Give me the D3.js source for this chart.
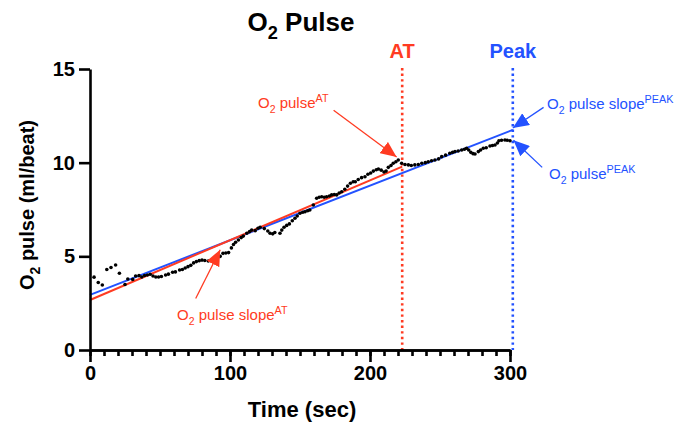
<!DOCTYPE html>
<html>
<head>
<meta charset="utf-8">
<script src="https://cdn.jsdelivr.net/npm/d3@7"></script>
<style>
  body { margin: 0; background: #fff; }
  svg text { font-family: "Liberation Sans", Arial, Helvetica, sans-serif; }
</style>
</head>
<body>
<svg id="chart" width="675" height="429"></svg>
<script>
// time (sec) and O2 pulse (ml/beat)
var times = [2.9, 5.9, 8.8, 12, 15, 18.3, 21, 25, 27, 30.5, 32.6, 35, 37, 39, 41, 43, 45, 47, 49, 51,
  54, 56, 59, 61, 64, 66, 68, 70, 72, 74, 76, 78, 80, 82, 84.5, 86, 88, 91, 93, 95,
  97, 99, 101, 102.5, 104, 106, 108, 109.5, 112, 114, 115.5, 118, 120, 121.5, 124.5, 127, 128.6, 130.5, 132, 135.7,
  137, 138.6, 140.5, 142.4, 144.5, 146.4, 148, 150, 152, 153.6, 155.5, 157, 159.5, 161.9, 163.7, 165.5, 167.3, 169, 171, 172.6,
  174.5, 176.2, 178, 179.8, 182, 184, 186, 188, 189.5, 191.6, 194, 196.4, 198.5, 200.5, 202.4, 204.5, 206, 208, 210, 211.5,
  213.1, 215, 216.6, 218.5, 220.2, 222.6, 225, 227.4, 229.5, 232, 234.5, 237, 239.5, 241.6, 244, 246.4, 249, 251.2,
  254, 257, 259, 260.7, 263, 265.5, 267.5, 269, 270.5, 272, 273.6, 275, 277.4, 279, 280.9, 283, 285.7, 287.5, 289.3, 291,
  292.1, 294, 296.4, 298, 300];
var pulse = [3.89, 3.6, 3.47, 4.3, 4.4, 4.54, 4.1, 3.5, 3.79, 3.77, 3.95, 3.97, 3.9, 3.98, 4.0, 4.04, 3.95, 3.9, 3.9, 3.92,
  4.0, 4.05, 4.15, 4.17, 4.27, 4.3, 4.38, 4.45, 4.52, 4.65, 4.72, 4.77, 4.8, 4.78, 4.75, 4.78, 4.8, 4.89, 5.0, 5.16,
  5.18, 5.2, 5.45, 5.63, 5.75, 5.87, 6.0, 6.08, 6.23, 6.32, 6.4, 6.37, 6.5, 6.55, 6.48, 6.35, 6.23, 6.2, 6.27, 6.23,
  6.4, 6.55, 6.65, 6.73, 6.9, 7.03, 7.15, 7.3, 7.35, 7.38, 7.43, 7.47, 7.74, 8.1, 8.15, 8.18, 8.15, 8.18, 8.22, 8.28,
  8.3, 8.28, 8.38, 8.45, 8.58, 8.75, 8.9, 8.98, 8.98, 9.1, 9.2, 9.25, 9.38, 9.45, 9.55, 9.62, 9.66, 9.6, 9.5, 9.55,
  9.75, 9.85, 9.97, 10.05, 10.14, 9.97, 9.9, 9.88, 9.85, 9.88, 9.9, 9.97, 10.0, 10.05, 10.1, 10.14, 10.2, 10.32,
  10.4, 10.5, 10.55, 10.59, 10.62, 10.68, 10.72, 10.77, 10.68, 10.55, 10.48, 10.46, 10.59, 10.68, 10.77, 10.8, 10.89, 10.92, 10.94, 11.05,
  11.17, 11.2, 11.21, 11.2, 11.17];

// fitted slopes: [time, value] at start and end
var slopeAT = [[0, 2.67], [223, 9.79]];
var slopePeak = [[0, 2.94], [302, 11.75]];

// markers
var atTime = 223;
var peakTime = 302;

var xMajor = [0, 100, 200, 300];
var xMinor = d3.range(0, 301, 10);
var yTicks = [0, 5, 10, 15];

var RED = "#ff3b22";
var BLUE = "#2352ff";

var svg = d3.select("#chart");
var x = d3.scaleLinear().domain([0, 300]).range([90, 510]);
var y = d3.scaleLinear().domain([0, 15]).range([350, 69]);

// defs for arrowheads
var defs = svg.append("defs");
[["arrRed", RED], ["arrBlue", BLUE]].forEach(function(m) {
  defs.append("marker")
    .attr("id", m[0])
    .attr("markerUnits", "userSpaceOnUse")
    .attr("viewBox", "0 0 16 14")
    .attr("refX", 16).attr("refY", 7)
    .attr("markerWidth", 16).attr("markerHeight", 14)
    .attr("orient", "auto")
    .append("path")
    .attr("d", "M0,0 L16,7 L0,14 Z")
    .attr("fill", m[1]);
});

// vertical dotted lines
function vline(t, color) {
  svg.append("line")
    .attr("x1", x(t)).attr("x2", x(t))
    .attr("y1", y(15) - 1).attr("y2", y(0))
    .attr("stroke", color)
    .attr("stroke-width", 2.6)
    .attr("stroke-dasharray", "2.4,3.2");
}
vline(atTime, RED);
vline(peakTime, BLUE);

// fitted lines
var line = d3.line().x(function(d) { return x(d[0]); }).y(function(d) { return y(d[1]); });
svg.append("path").datum(slopePeak).attr("d", line)
  .attr("stroke", BLUE).attr("stroke-width", 2).attr("fill", "none");
svg.append("path").datum(slopeAT).attr("d", line)
  .attr("stroke", RED).attr("stroke-width", 2).attr("fill", "none");

// data points
svg.append("g").selectAll("circle")
  .data(times)
  .join("circle")
  .attr("cx", function(d) { return x(d); })
  .attr("cy", function(d, i) { return y(pulse[i]); })
  .attr("r", 1.8)
  .attr("fill", "#000");

// axes
var yAxis = svg.append("g")
  .attr("transform", "translate(" + x(0) + ",0)")
  .call(d3.axisLeft(y).tickValues(yTicks).tickSize(11).tickSizeOuter(0).tickPadding(4));
var xAxis = svg.append("g")
  .attr("transform", "translate(0," + y(0) + ")")
  .call(d3.axisBottom(x).tickValues(xMajor).tickSize(12).tickSizeOuter(0).tickPadding(4));
var xMinorAxis = svg.append("g")
  .attr("transform", "translate(0," + y(0) + ")")
  .call(d3.axisBottom(x).tickValues(xMinor).tickSize(6).tickSizeOuter(0).tickFormat(""));
[yAxis, xAxis, xMinorAxis].forEach(function(g) {
  g.selectAll("path, line").attr("stroke", "#000").attr("stroke-width", 2.6);
  g.selectAll("text")
    .attr("fill", "#000")
    .style("font-size", "20px")
    .style("font-weight", "bold")
    .style("font-family", '"Liberation Sans", Arial, sans-serif');
});

// text helper: parts = [[text, "n"|"sub"|"sup"], ...]
function richText(g, parts, size) {
  parts.forEach(function(p, i) {
    var ts = g.append("tspan").text(p[0]);
    if (p[1] === "sub") ts.attr("dy", size * 0.3).style("font-size", (size * 0.7) + "px");
    else if (p[1] === "sup") ts.attr("dy", -size * 0.4).style("font-size", (size * 0.72) + "px");
    else if (i > 0 && parts[i - 1][1] === "sub") ts.attr("dy", -size * 0.3);
  });
  return g;
}

// title
richText(svg.append("text")
  .attr("x", 301).attr("y", 31)
  .attr("text-anchor", "middle")
  .style("font-size", "26px").style("font-weight", "bold"),
  [["O", "n"], ["2", "sub"], [" Pulse", "n"]], 26);

// axis titles
svg.append("text")
  .attr("x", 302).attr("y", 417)
  .attr("text-anchor", "middle")
  .style("font-size", "22px").style("font-weight", "bold")
  .text("Time (sec)");
richText(svg.append("text")
  .attr("transform", "translate(34,205) rotate(-90)")
  .attr("text-anchor", "middle")
  .style("font-size", "20px").style("font-weight", "bold"),
  [["O", "n"], ["2", "sub"], [" pulse (ml/beat)", "n"]], 20);

// AT / Peak labels
svg.append("text").attr("x", x(atTime)).attr("y", 58)
  .attr("text-anchor", "middle").attr("fill", RED)
  .style("font-size", "20px").style("font-weight", "bold").text("AT");
svg.append("text").attr("x", x(peakTime)).attr("y", 58)
  .attr("text-anchor", "middle").attr("fill", BLUE)
  .style("font-size", "20px").style("font-weight", "bold").text("Peak");

// annotations: label text, label position, arrow tail -> tip (data units)
var notes = [
  { parts: [["O", "n"], ["2", "sub"], [" pulse", "n"], ["AT", "sup"]], tx: 258, ty: 108, color: RED, marker: "arrRed",
    from: [174, 12.8], to: [219, 10.3] },
  { parts: [["O", "n"], ["2", "sub"], [" pulse slope", "n"], ["AT", "sup"]], tx: 177, ty: 320, color: RED, marker: "arrRed",
    from: [75.5, 2.75], to: [93, 5.35] },
  { parts: [["O", "n"], ["2", "sub"], [" pulse slope", "n"], ["PEAK", "sup"]], tx: 547, ty: 109, color: BLUE, marker: "arrBlue",
    from: [324, 12.95], to: [302, 11.85] },
  { parts: [["O", "n"], ["2", "sub"], [" pulse", "n"], ["PEAK", "sup"]], tx: 549, ty: 179, color: BLUE, marker: "arrBlue",
    from: [323, 9.75], to: [302.5, 11.2] }
];
notes.forEach(function(n) {
  svg.append("line")
    .attr("x1", x(n.from[0])).attr("y1", y(n.from[1]))
    .attr("x2", x(n.to[0])).attr("y2", y(n.to[1]))
    .attr("stroke", n.color).attr("stroke-width", 1.3)
    .attr("marker-end", "url(#" + n.marker + ")");
  richText(svg.append("text")
    .attr("x", n.tx).attr("y", n.ty)
    .attr("fill", n.color)
    .style("font-size", "15px"),
    n.parts, 15);
});
</script>
</body>
</html>
